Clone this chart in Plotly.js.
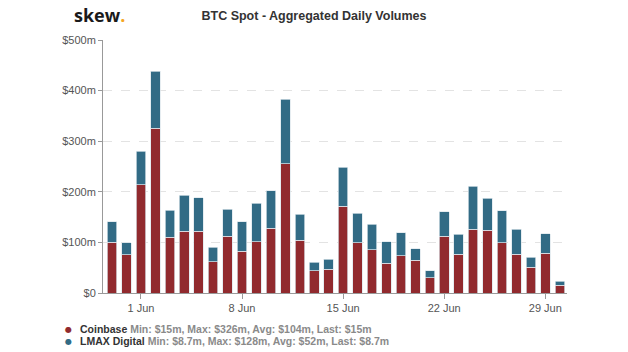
<!DOCTYPE html>
<html>
<head>
<meta charset="utf-8">
<script src="https://cdn.plot.ly/plotly-3.0.1.min.js"></script>
<style>html,body{margin:0;padding:0;background:#fff;}#chart{width:628px;height:352px;}</style>
</head>
<body>
<div id="chart"></div>
<script>
const dates = ['2020-05-30','2020-05-31','2020-06-01','2020-06-02','2020-06-03','2020-06-04','2020-06-05','2020-06-06',
  '2020-06-07','2020-06-08','2020-06-09','2020-06-10','2020-06-11','2020-06-12','2020-06-13','2020-06-14',
  '2020-06-15','2020-06-16','2020-06-17','2020-06-18','2020-06-19','2020-06-20','2020-06-21','2020-06-22',
  '2020-06-23','2020-06-24','2020-06-25','2020-06-26','2020-06-27','2020-06-28','2020-06-29','2020-06-30'];
const coinbase = [100,76,214,326,110,122,122,62,112,83,101,128,255,104,44,47,171,99,85,59,74,65,30,112,77,126,124,99,77,51,79,15];
const lmax = [41,23,66,112,54,71,66,28,54,58,76,74,128,52,17,20,78,59,51,42,45,22.5,14,48.5,39,85,63,64,49,20,38,8.7];
const xTickVals = ['2020-06-01','2020-06-08','2020-06-15','2020-06-22','2020-06-29'];
const xTickText = ['1 Jun','8 Jun','15 Jun','22 Jun','29 Jun'];
const yTickVals = [0,100,200,300,400,500];
const yTickText = ['$0','$100m','$200m','$300m','$400m','$500m'];
const seriesNames = ['Coinbase','LMAX Digital'];
const seriesStats = ['Min: $15m, Max: $326m, Avg: $104m, Last: $15m','Min: $8.7m, Max: $128m, Avg: $52m, Last: $8.7m'];

const RED = '#912a2e', BLUE = '#326b85';
const font = 'Liberation Sans, Arial, sans-serif';
const PL = 103, PW = 464, PT = 40, PH = 253;
const px = v => (v - PL) / PW;
const py = v => (PT + PH - v) / PH;

const traces = [
  {type:'bar', x:dates, y:coinbase, name:seriesNames[0], marker:{color:RED, line:{color:'rgba(220,230,235,0.9)', width:0.8}}, showlegend:false},
  {type:'bar', x:dates, y:lmax, name:seriesNames[1], marker:{color:BLUE, line:{color:'rgba(220,230,235,0.9)', width:0.8}}, showlegend:false}
];

const colors = [RED, BLUE];
const legendY = [329, 341];
const annotations = [
  {xref:'paper', yref:'paper', x:px(72), y:py(15), xanchor:'left', yanchor:'middle', showarrow:false,
   text:"<b>skew</b><b style='color:#f5a623'>.</b>", font:{family:'Open Sans, sans-serif', size:18, color:'#1a1a1a'}}
];
seriesNames.forEach((n,i)=>{
  annotations.push({xref:'paper', yref:'paper', x:px(68), y:py(legendY[i]), xanchor:'center', yanchor:'middle', showarrow:false,
    text:"●", font:{family:'DejaVu Sans, sans-serif', size:8, color:colors[i]}});
  annotations.push({xref:'paper', yref:'paper', x:px(78), y:py(legendY[i]), xanchor:'left', yanchor:'middle', showarrow:false,
    text:"<b>"+n+"</b> <b style='color:#8a8a8a'>"+seriesStats[i]+"</b>",
    font:{family:font, size:10.5, color:'#333'}});
});

const layout = {
  width:628, height:352,
  margin:{l:PL, r:628-PL-PW, t:PT, b:352-PT-PH},
  paper_bgcolor:'#fff', plot_bgcolor:'#fff',
  barmode:'stack', bargap:0.34,
  font:{family:font, size:11, color:'#555'},
  title:{text:'<b>BTC Spot - Aggregated Daily Volumes</b>', x:0.5, xref:'container', xanchor:'center', y:1-15.5/352, yref:'container', yanchor:'middle',
    font:{family:font, size:12.5, color:'#333'}},
  xaxis:{type:'date', range:['2020-05-29 09:00','2020-06-30 12:00'], tickvals:xTickVals, ticktext:xTickText,
    showgrid:false, showline:true, linecolor:'#999', linewidth:1, ticks:'outside', ticklen:5, tickcolor:'#999',
    tickfont:{size:11, color:'#555'}, fixedrange:true, zeroline:false},
  yaxis:{range:[0,500], tickvals:yTickVals, ticktext:yTickText, showgrid:true, gridcolor:'#e3e3e3', griddash:'dash', gridwidth:1,
    showline:true, linecolor:'#999', linewidth:1, ticks:'outside', ticklen:4, tickcolor:'#999', zeroline:false,
    tickfont:{size:11, color:'#555'}, fixedrange:true},
  showlegend:false,
  annotations:annotations
};
Plotly.newPlot('chart', traces, layout, {displayModeBar:false, staticPlot:true});
</script>
</body>
</html>
